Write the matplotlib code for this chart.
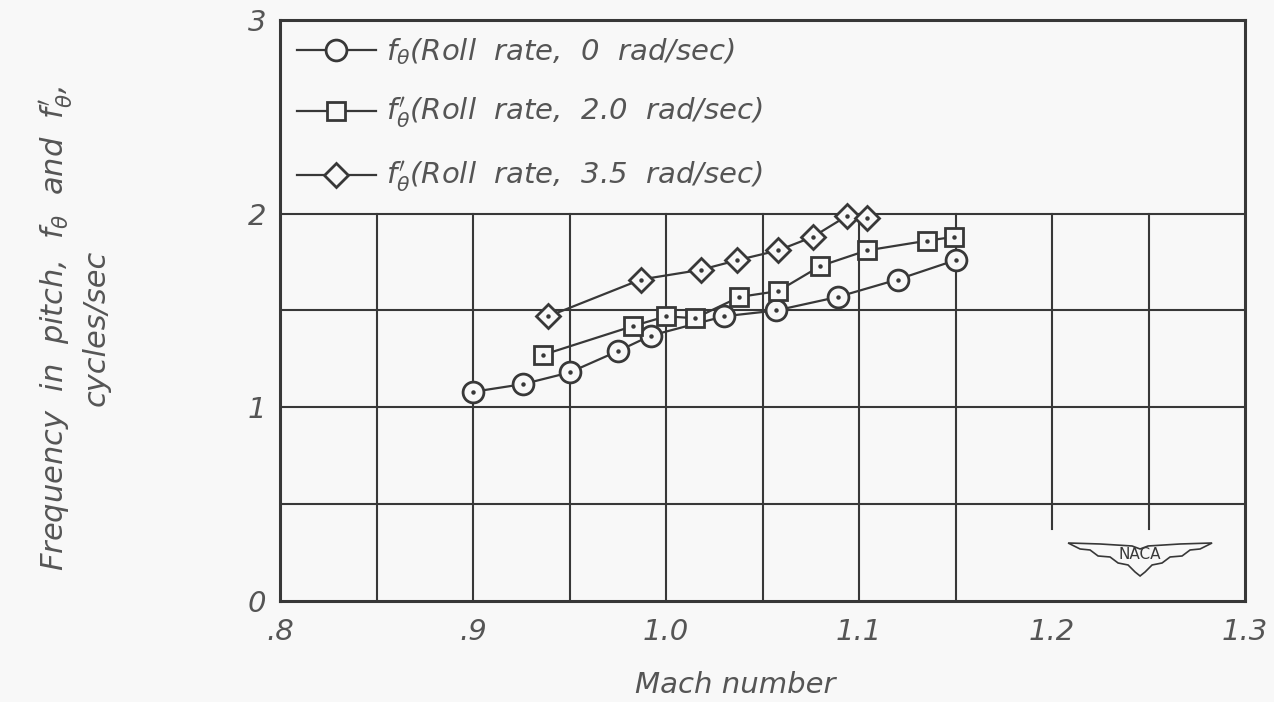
import matplotlib
matplotlib.use("Agg")
import matplotlib.pyplot as plt
from matplotlib.patches import Polygon

# pitch frequency vs Mach number, three roll rates
mach_0 = [0.900, 0.926, 0.950, 0.975, 0.992, 1.030, 1.057, 1.089, 1.120, 1.150]
freq_0 = [1.08, 1.12, 1.18, 1.29, 1.37, 1.47, 1.50, 1.57, 1.66, 1.76]

mach_20 = [0.936, 0.983, 1.000, 1.015, 1.038, 1.058, 1.080, 1.104, 1.135, 1.149]
freq_20 = [1.27, 1.42, 1.47, 1.46, 1.57, 1.60, 1.73, 1.81, 1.86, 1.88]

mach_35 = [0.939, 0.987, 1.018, 1.037, 1.058, 1.076, 1.094, 1.104]
freq_35 = [1.47, 1.66, 1.71, 1.76, 1.81, 1.88, 1.99, 1.98]

x_ticks = [0.8, 0.9, 1.0, 1.1, 1.2, 1.3]
x_labels = [".8", ".9", "1.0", "1.1", "1.2", "1.3"]
y_ticks = [0, 1, 2, 3]
y_labels = ["0", "1", "2", "3"]

labels = [r"$f_{\theta}$(Roll  rate,  0  rad/sec)",
          r"$f^{\prime}_{\theta}$(Roll  rate,  2.0  rad/sec)",
          r"$f^{\prime}_{\theta}$(Roll  rate,  3.5  rad/sec)"]

ink = "#383838"
txt = "#555555"
paper = "#f8f8f8"

plt.rcParams["font.family"] = ["DejaVu Sans"]
plt.rcParams["mathtext.fontset"] = "dejavusans"

fig = plt.figure(figsize=(12.74, 7.02), dpi=100, facecolor=paper)
ax = fig.add_axes([0.2198, 0.1439, 0.7575, 0.8276])
ax.set_facecolor(paper)
ax.set_xlim(0.8, 1.3)
ax.set_ylim(0, 3)

# grid only in the lower part, vertical lines stop short above the logo
for gx in [0.85, 0.9, 0.95, 1.0, 1.05, 1.1, 1.15]:
    ax.plot([gx, gx], [0, 2], color=ink, lw=1.5, zorder=1)
for gx in [1.2, 1.25]:
    ax.plot([gx, gx], [0.37, 2], color=ink, lw=1.5, zorder=1)
for gy in [0.5, 1.0, 1.5, 2.0]:
    ax.plot([0.8, 1.3], [gy, gy], color=ink, lw=1.5, zorder=1)

for s in ax.spines.values():
    s.set_color(ink)
    s.set_linewidth(2.2)

series = [(mach_0, freq_0, "o", 15), (mach_20, freq_20, "s", 13), (mach_35, freq_35, "D", 12)]
handles = []
for (mx, fy, mk, ms), lab in zip(series, labels):
    h, = ax.plot(mx, fy, color=ink, lw=1.6, marker=mk, ms=ms, mfc=paper,
                 mec=ink, mew=2.0, label=lab, zorder=3)
    ax.plot(mx, fy, ls="none", marker="o", ms=2.2, color=ink, zorder=4)
    handles.append(h)

leg = ax.legend(handles=handles, loc="upper left", bbox_to_anchor=(-0.008, 1.015),
                frameon=False, fontsize=21, labelspacing=1.0, handlelength=2.7,
                handletextpad=0.35, borderpad=0.35, markerscale=1.0)
for t in leg.get_texts():
    t.set_color(txt)
    t.set_fontstyle("oblique")

ax.set_xticks(x_ticks)
ax.set_xticklabels(x_labels)
ax.set_yticks(y_ticks)
ax.set_yticklabels(y_labels)
ax.tick_params(length=0, labelsize=21, colors=txt)
ax.tick_params(axis="x", pad=12)
ax.tick_params(axis="y", pad=10)
for t in ax.get_xticklabels() + ax.get_yticklabels():
    t.set_fontstyle("oblique")

fig.text(0.577, 0.024, "Mach number", fontsize=21, color=txt, style="oblique",
         ha="center", va="center")
fig.text(0.058, 0.533,
         "Frequency  in  pitch,  $f_{\\theta}$  and  $f^{\\prime}_{\\theta}$,\ncycles/sec",
         rotation=90, ha="center", va="center", fontsize=22, color=txt,
         style="oblique", linespacing=1.3, multialignment="center")

# NACA wing emblem, bottom right
def px(x, y):
    return ((x - 280) / 965, (601 - y) / 581)

wing = [(1068, 543), (1100, 544), (1132, 546), (1140, 549), (1148, 546), (1180, 544),
        (1212, 543), (1200, 549), (1190, 550), (1182, 556), (1170, 557), (1162, 563),
        (1152, 565), (1145, 572), (1140, 576), (1135, 572), (1128, 565), (1118, 563),
        (1110, 557), (1098, 556), (1090, 550), (1080, 549)]
ax.add_patch(Polygon([px(*p) for p in wing], closed=True, transform=ax.transAxes,
                     fill=True, fc=paper, ec=ink, lw=1.2, zorder=2))
ax.text(*px(1140, 555), "NACA", transform=ax.transAxes, ha="center", va="center",
        fontsize=11, color=ink, zorder=3)

fig.savefig("out.png", dpi=100, facecolor=paper)
